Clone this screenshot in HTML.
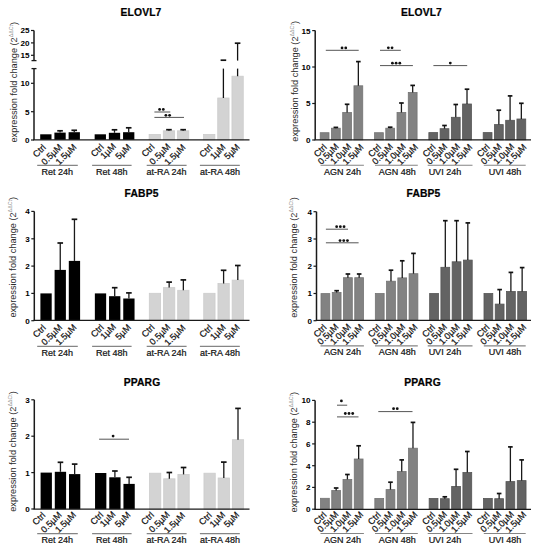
<!DOCTYPE html>
<html><head><meta charset="utf-8"><style>
html,body{margin:0;padding:0;background:#fff;}
svg{display:block;font-family:"Liberation Sans", sans-serif;}
text{stroke:#111;stroke-width:0.22px;paint-order:stroke;}
text.t{stroke:none;}
</style></head><body>
<svg width="541" height="550" viewBox="0 0 541 550">
<rect x="0" y="0" width="541" height="550" fill="#fff"/>
<text x="141.00" y="16.40" font-size="10.3" font-weight="bold" text-anchor="middle" fill="#000" letter-spacing="0.15">ELOVL7</text>
<text x="16.80" y="142.50" class="t" font-size="9.2" fill="#2a2a2a" transform="rotate(-90 16.80 142.50)">expression fold change (2<tspan class="t" font-size="5.3" dy="-4.1" fill="#8a8a8a">ΔΔCt</tspan><tspan dy="4.1">)</tspan></text>
<rect x="40.20" y="134.30" width="11.30" height="5.50" fill="#000000"/>
<rect x="54.40" y="132.60" width="11.30" height="7.20" fill="#000000"/>
<rect x="68.60" y="132.20" width="11.30" height="7.60" fill="#000000"/>
<rect x="94.65" y="134.30" width="11.30" height="5.50" fill="#000000"/>
<rect x="108.85" y="132.80" width="11.30" height="7.00" fill="#000000"/>
<rect x="123.05" y="132.20" width="11.30" height="7.60" fill="#000000"/>
<rect x="149.10" y="134.40" width="11.30" height="5.40" fill="#d3d3d3" stroke="#cccccc" stroke-width="0.8"/>
<rect x="163.30" y="130.80" width="11.30" height="9.00" fill="#d3d3d3" stroke="#cccccc" stroke-width="0.8"/>
<rect x="177.50" y="130.80" width="11.30" height="9.00" fill="#d3d3d3" stroke="#cccccc" stroke-width="0.8"/>
<rect x="203.55" y="134.40" width="11.30" height="5.40" fill="#d3d3d3" stroke="#cccccc" stroke-width="0.8"/>
<rect x="217.75" y="98.00" width="11.30" height="41.80" fill="#d3d3d3" stroke="#cccccc" stroke-width="0.8"/>
<rect x="231.95" y="76.20" width="11.30" height="63.60" fill="#d3d3d3" stroke="#cccccc" stroke-width="0.8"/>
<line x1="60.05" y1="132.60" x2="60.05" y2="130.80" stroke="#1a1a1a" stroke-width="1.3"/>
<line x1="57.25" y1="130.80" x2="62.85" y2="130.80" stroke="#111" stroke-width="1.7"/>
<line x1="74.25" y1="132.20" x2="74.25" y2="130.30" stroke="#1a1a1a" stroke-width="1.3"/>
<line x1="71.45" y1="130.30" x2="77.05" y2="130.30" stroke="#111" stroke-width="1.7"/>
<line x1="114.50" y1="132.80" x2="114.50" y2="129.80" stroke="#1a1a1a" stroke-width="1.3"/>
<line x1="111.70" y1="129.80" x2="117.30" y2="129.80" stroke="#111" stroke-width="1.7"/>
<line x1="128.70" y1="132.20" x2="128.70" y2="127.80" stroke="#1a1a1a" stroke-width="1.3"/>
<line x1="125.90" y1="127.80" x2="131.50" y2="127.80" stroke="#111" stroke-width="1.7"/>
<line x1="168.95" y1="130.80" x2="168.95" y2="129.70" stroke="#1a1a1a" stroke-width="1.3"/>
<line x1="166.15" y1="129.70" x2="171.75" y2="129.70" stroke="#111" stroke-width="1.7"/>
<line x1="183.15" y1="130.80" x2="183.15" y2="129.70" stroke="#1a1a1a" stroke-width="1.3"/>
<line x1="180.35" y1="129.70" x2="185.95" y2="129.70" stroke="#111" stroke-width="1.7"/>
<line x1="223.40" y1="98.00" x2="223.40" y2="68.60" stroke="#111" stroke-width="1.3"/>
<line x1="220.60" y1="60.20" x2="226.20" y2="60.20" stroke="#111" stroke-width="1.7"/>
<line x1="237.60" y1="76.20" x2="237.60" y2="68.60" stroke="#111" stroke-width="1.3"/>
<line x1="237.60" y1="60.60" x2="237.60" y2="43.20" stroke="#111" stroke-width="1.3"/>
<line x1="234.80" y1="43.20" x2="240.40" y2="43.20" stroke="#111" stroke-width="1.7"/>
<line x1="34.00" y1="30.50" x2="34.00" y2="60.60" stroke="#1a1a1a" stroke-width="1.5"/>
<line x1="34.00" y1="68.60" x2="34.00" y2="140.00" stroke="#1a1a1a" stroke-width="1.5"/>
<line x1="31.00" y1="30.50" x2="34.00" y2="30.50" stroke="#1a1a1a" stroke-width="1.2"/>
<text x="29.40" y="33.40" font-size="8.1" font-weight="bold" text-anchor="end" fill="#000" class="t">25</text>
<line x1="31.00" y1="42.90" x2="34.00" y2="42.90" stroke="#1a1a1a" stroke-width="1.2"/>
<text x="29.40" y="45.80" font-size="8.1" font-weight="bold" text-anchor="end" fill="#000" class="t">20</text>
<line x1="31.00" y1="55.30" x2="34.00" y2="55.30" stroke="#1a1a1a" stroke-width="1.2"/>
<text x="29.40" y="58.20" font-size="8.1" font-weight="bold" text-anchor="end" fill="#000" class="t">15</text>
<line x1="31.00" y1="83.30" x2="34.00" y2="83.30" stroke="#1a1a1a" stroke-width="1.2"/>
<text x="29.40" y="86.20" font-size="8.1" font-weight="bold" text-anchor="end" fill="#000" class="t">10</text>
<line x1="31.00" y1="111.70" x2="34.00" y2="111.70" stroke="#1a1a1a" stroke-width="1.2"/>
<text x="29.40" y="114.60" font-size="8.1" font-weight="bold" text-anchor="end" fill="#000" class="t">5</text>
<line x1="31.00" y1="140.00" x2="34.00" y2="140.00" stroke="#1a1a1a" stroke-width="1.2"/>
<text x="29.40" y="142.90" font-size="8.1" font-weight="bold" text-anchor="end" fill="#000" class="t">0</text>
<line x1="31.50" y1="60.60" x2="36.50" y2="60.60" stroke="#1a1a1a" stroke-width="1.3"/>
<line x1="31.50" y1="68.60" x2="36.50" y2="68.60" stroke="#1a1a1a" stroke-width="1.3"/>
<line x1="33.25" y1="139.80" x2="249.50" y2="139.80" stroke="#1a1a1a" stroke-width="1.3"/>
<line x1="154.40" y1="112.00" x2="170.30" y2="112.00" stroke="#555" stroke-width="1.0"/>
<circle cx="159.60" cy="109.40" r="1.4" fill="#111"/>
<circle cx="163.30" cy="109.40" r="1.4" fill="#111"/>
<line x1="154.40" y1="117.40" x2="184.00" y2="117.40" stroke="#555" stroke-width="1.0"/>
<circle cx="165.90" cy="115.30" r="1.4" fill="#111"/>
<circle cx="169.60" cy="115.30" r="1.4" fill="#111"/>
<text x="46.45" y="148.00" font-size="9" font-weight="normal" text-anchor="end" fill="#111" transform="rotate(-45 46.45 148.00)">Ctrl</text>
<text x="62.85" y="147.60" font-size="9" font-weight="normal" text-anchor="end" fill="#111" transform="rotate(-45 62.85 147.60)">0.5µM</text>
<text x="77.05" y="147.60" font-size="9" font-weight="normal" text-anchor="end" fill="#111" transform="rotate(-45 77.05 147.60)">1.5µM</text>
<text x="104.30" y="147.60" font-size="9" font-weight="normal" text-anchor="end" fill="#111" transform="rotate(-45 104.30 147.60)">Ctrl</text>
<text x="116.50" y="147.00" font-size="9" font-weight="normal" text-anchor="end" fill="#111" transform="rotate(-45 116.50 147.00)">1µM</text>
<text x="131.50" y="147.60" font-size="9" font-weight="normal" text-anchor="end" fill="#111" transform="rotate(-45 131.50 147.60)">5µM</text>
<text x="155.15" y="147.60" font-size="9" font-weight="normal" text-anchor="end" fill="#111" transform="rotate(-45 155.15 147.60)">Ctrl</text>
<text x="170.95" y="147.30" font-size="9" font-weight="normal" text-anchor="end" fill="#111" transform="rotate(-45 170.95 147.30)">0.5µM</text>
<text x="185.95" y="148.00" font-size="9" font-weight="normal" text-anchor="end" fill="#111" transform="rotate(-45 185.95 148.00)">1.5µM</text>
<text x="213.00" y="148.00" font-size="9" font-weight="normal" text-anchor="end" fill="#111" transform="rotate(-45 213.00 148.00)">Ctrl</text>
<text x="226.20" y="147.60" font-size="9" font-weight="normal" text-anchor="end" fill="#111" transform="rotate(-45 226.20 147.60)">1µM</text>
<text x="240.40" y="147.60" font-size="9" font-weight="normal" text-anchor="end" fill="#111" transform="rotate(-45 240.40 147.60)">5µM</text>
<line x1="37.20" y1="165.40" x2="77.80" y2="165.40" stroke="#858585" stroke-width="1.1"/>
<text x="57.30" y="174.80" font-size="9" font-weight="normal" text-anchor="middle" fill="#111">Ret 24h</text>
<line x1="92.10" y1="165.40" x2="131.60" y2="165.40" stroke="#858585" stroke-width="1.1"/>
<text x="111.80" y="174.80" font-size="9" font-weight="normal" text-anchor="middle" fill="#111">Ret 48h</text>
<line x1="146.70" y1="165.40" x2="186.60" y2="165.40" stroke="#858585" stroke-width="1.1"/>
<text x="166.60" y="174.80" font-size="9" font-weight="normal" text-anchor="middle" fill="#111">at-RA 24h</text>
<line x1="199.90" y1="165.40" x2="239.80" y2="165.40" stroke="#858585" stroke-width="1.1"/>
<text x="219.90" y="174.80" font-size="9" font-weight="normal" text-anchor="middle" fill="#111">at-RA 48h</text>
<text x="421.50" y="16.40" font-size="10.3" font-weight="bold" text-anchor="middle" fill="#000" letter-spacing="0.15">ELOVL7</text>
<text x="297.70" y="141.70" class="t" font-size="9.2" fill="#2a2a2a" transform="rotate(-90 297.70 141.70)">expression fold change (2<tspan class="t" font-size="5.3" dy="-4.1" fill="#8a8a8a">ΔΔCt</tspan><tspan dy="4.1">)</tspan></text>
<rect x="320.20" y="132.70" width="8.80" height="7.10" fill="#828282" stroke="#747474" stroke-width="0.8"/>
<rect x="331.45" y="128.20" width="8.80" height="11.60" fill="#828282" stroke="#747474" stroke-width="0.8"/>
<rect x="342.70" y="112.50" width="8.80" height="27.30" fill="#828282" stroke="#747474" stroke-width="0.8"/>
<rect x="353.95" y="85.80" width="8.80" height="54.00" fill="#828282" stroke="#747474" stroke-width="0.8"/>
<rect x="374.53" y="132.70" width="8.80" height="7.10" fill="#828282" stroke="#747474" stroke-width="0.8"/>
<rect x="385.78" y="128.20" width="8.80" height="11.60" fill="#828282" stroke="#747474" stroke-width="0.8"/>
<rect x="397.03" y="112.50" width="8.80" height="27.30" fill="#828282" stroke="#747474" stroke-width="0.8"/>
<rect x="408.28" y="92.50" width="8.80" height="47.30" fill="#828282" stroke="#747474" stroke-width="0.8"/>
<rect x="428.86" y="132.60" width="8.80" height="7.20" fill="#636363" stroke="#555555" stroke-width="0.8"/>
<rect x="440.11" y="128.70" width="8.80" height="11.10" fill="#636363" stroke="#555555" stroke-width="0.8"/>
<rect x="451.36" y="117.30" width="8.80" height="22.50" fill="#636363" stroke="#555555" stroke-width="0.8"/>
<rect x="462.61" y="104.00" width="8.80" height="35.80" fill="#636363" stroke="#555555" stroke-width="0.8"/>
<rect x="483.19" y="132.60" width="8.80" height="7.20" fill="#636363" stroke="#555555" stroke-width="0.8"/>
<rect x="494.44" y="124.60" width="8.80" height="15.20" fill="#636363" stroke="#555555" stroke-width="0.8"/>
<rect x="505.69" y="120.30" width="8.80" height="19.50" fill="#636363" stroke="#555555" stroke-width="0.8"/>
<rect x="516.94" y="119.00" width="8.80" height="20.80" fill="#636363" stroke="#555555" stroke-width="0.8"/>
<line x1="335.85" y1="128.20" x2="335.85" y2="127.40" stroke="#1a1a1a" stroke-width="1.3"/>
<line x1="333.55" y1="127.40" x2="338.15" y2="127.40" stroke="#111" stroke-width="1.7"/>
<line x1="347.10" y1="112.50" x2="347.10" y2="104.30" stroke="#1a1a1a" stroke-width="1.3"/>
<line x1="344.80" y1="104.30" x2="349.40" y2="104.30" stroke="#111" stroke-width="1.7"/>
<line x1="358.35" y1="85.80" x2="358.35" y2="61.60" stroke="#1a1a1a" stroke-width="1.3"/>
<line x1="356.05" y1="61.60" x2="360.65" y2="61.60" stroke="#111" stroke-width="1.7"/>
<line x1="390.18" y1="128.20" x2="390.18" y2="127.20" stroke="#1a1a1a" stroke-width="1.3"/>
<line x1="387.88" y1="127.20" x2="392.48" y2="127.20" stroke="#111" stroke-width="1.7"/>
<line x1="401.43" y1="112.50" x2="401.43" y2="103.00" stroke="#1a1a1a" stroke-width="1.3"/>
<line x1="399.13" y1="103.00" x2="403.73" y2="103.00" stroke="#111" stroke-width="1.7"/>
<line x1="412.68" y1="92.50" x2="412.68" y2="85.40" stroke="#1a1a1a" stroke-width="1.3"/>
<line x1="410.38" y1="85.40" x2="414.98" y2="85.40" stroke="#111" stroke-width="1.7"/>
<line x1="444.51" y1="128.70" x2="444.51" y2="125.50" stroke="#1a1a1a" stroke-width="1.3"/>
<line x1="442.21" y1="125.50" x2="446.81" y2="125.50" stroke="#111" stroke-width="1.7"/>
<line x1="455.76" y1="117.30" x2="455.76" y2="104.50" stroke="#1a1a1a" stroke-width="1.3"/>
<line x1="453.46" y1="104.50" x2="458.06" y2="104.50" stroke="#111" stroke-width="1.7"/>
<line x1="467.01" y1="104.00" x2="467.01" y2="89.20" stroke="#1a1a1a" stroke-width="1.3"/>
<line x1="464.71" y1="89.20" x2="469.31" y2="89.20" stroke="#111" stroke-width="1.7"/>
<line x1="498.84" y1="124.60" x2="498.84" y2="110.20" stroke="#1a1a1a" stroke-width="1.3"/>
<line x1="496.54" y1="110.20" x2="501.14" y2="110.20" stroke="#111" stroke-width="1.7"/>
<line x1="510.09" y1="120.30" x2="510.09" y2="95.90" stroke="#1a1a1a" stroke-width="1.3"/>
<line x1="507.79" y1="95.90" x2="512.39" y2="95.90" stroke="#111" stroke-width="1.7"/>
<line x1="521.34" y1="119.00" x2="521.34" y2="103.30" stroke="#1a1a1a" stroke-width="1.3"/>
<line x1="519.04" y1="103.30" x2="523.64" y2="103.30" stroke="#111" stroke-width="1.7"/>
<line x1="315.20" y1="30.60" x2="315.20" y2="139.80" stroke="#1a1a1a" stroke-width="1.5"/>
<line x1="312.20" y1="30.60" x2="315.20" y2="30.60" stroke="#1a1a1a" stroke-width="1.2"/>
<text x="310.60" y="33.50" font-size="8.1" font-weight="bold" text-anchor="end" fill="#000" class="t">15</text>
<line x1="312.20" y1="67.00" x2="315.20" y2="67.00" stroke="#1a1a1a" stroke-width="1.2"/>
<text x="310.60" y="69.90" font-size="8.1" font-weight="bold" text-anchor="end" fill="#000" class="t">10</text>
<line x1="312.20" y1="103.50" x2="315.20" y2="103.50" stroke="#1a1a1a" stroke-width="1.2"/>
<text x="310.60" y="106.40" font-size="8.1" font-weight="bold" text-anchor="end" fill="#000" class="t">5</text>
<line x1="312.20" y1="140.00" x2="315.20" y2="140.00" stroke="#1a1a1a" stroke-width="1.2"/>
<text x="310.60" y="142.90" font-size="8.1" font-weight="bold" text-anchor="end" fill="#000" class="t">0</text>
<line x1="314.45" y1="139.80" x2="531.00" y2="139.80" stroke="#1a1a1a" stroke-width="1.3"/>
<line x1="325.80" y1="50.30" x2="358.70" y2="50.30" stroke="#555" stroke-width="1.0"/>
<circle cx="342.05" cy="47.90" r="1.4" fill="#111"/>
<circle cx="345.75" cy="47.90" r="1.4" fill="#111"/>
<line x1="380.00" y1="50.30" x2="400.80" y2="50.30" stroke="#555" stroke-width="1.0"/>
<circle cx="388.35" cy="47.80" r="1.4" fill="#111"/>
<circle cx="392.05" cy="47.80" r="1.4" fill="#111"/>
<line x1="380.00" y1="65.60" x2="412.90" y2="65.60" stroke="#555" stroke-width="1.0"/>
<circle cx="392.40" cy="63.20" r="1.4" fill="#111"/>
<circle cx="396.10" cy="63.20" r="1.4" fill="#111"/>
<circle cx="399.80" cy="63.20" r="1.4" fill="#111"/>
<line x1="433.40" y1="65.60" x2="467.20" y2="65.60" stroke="#555" stroke-width="1.0"/>
<circle cx="450.30" cy="63.10" r="1.4" fill="#111"/>
<text x="327.40" y="147.80" font-size="9" font-weight="normal" text-anchor="end" fill="#111" transform="rotate(-45 327.40 147.80)">Ctrl</text>
<text x="339.25" y="147.20" font-size="9" font-weight="normal" text-anchor="end" fill="#111" transform="rotate(-45 339.25 147.20)">0.5µM</text>
<text x="351.90" y="147.20" font-size="9" font-weight="normal" text-anchor="end" fill="#111" transform="rotate(-45 351.90 147.20)">1.0µM</text>
<text x="364.15" y="147.60" font-size="9" font-weight="normal" text-anchor="end" fill="#111" transform="rotate(-45 364.15 147.60)">1.5µM</text>
<text x="381.73" y="147.80" font-size="9" font-weight="normal" text-anchor="end" fill="#111" transform="rotate(-45 381.73 147.80)">Ctrl</text>
<text x="393.58" y="147.20" font-size="9" font-weight="normal" text-anchor="end" fill="#111" transform="rotate(-45 393.58 147.20)">0.5µM</text>
<text x="406.23" y="147.20" font-size="9" font-weight="normal" text-anchor="end" fill="#111" transform="rotate(-45 406.23 147.20)">1.0µM</text>
<text x="418.48" y="147.60" font-size="9" font-weight="normal" text-anchor="end" fill="#111" transform="rotate(-45 418.48 147.60)">1.5µM</text>
<text x="436.06" y="147.80" font-size="9" font-weight="normal" text-anchor="end" fill="#111" transform="rotate(-45 436.06 147.80)">Ctrl</text>
<text x="447.91" y="147.20" font-size="9" font-weight="normal" text-anchor="end" fill="#111" transform="rotate(-45 447.91 147.20)">0.5µM</text>
<text x="460.56" y="147.20" font-size="9" font-weight="normal" text-anchor="end" fill="#111" transform="rotate(-45 460.56 147.20)">1.0µM</text>
<text x="472.81" y="147.60" font-size="9" font-weight="normal" text-anchor="end" fill="#111" transform="rotate(-45 472.81 147.60)">1.5µM</text>
<text x="490.39" y="147.80" font-size="9" font-weight="normal" text-anchor="end" fill="#111" transform="rotate(-45 490.39 147.80)">Ctrl</text>
<text x="502.24" y="147.20" font-size="9" font-weight="normal" text-anchor="end" fill="#111" transform="rotate(-45 502.24 147.20)">0.5µM</text>
<text x="514.89" y="147.20" font-size="9" font-weight="normal" text-anchor="end" fill="#111" transform="rotate(-45 514.89 147.20)">1.0µM</text>
<text x="527.14" y="147.60" font-size="9" font-weight="normal" text-anchor="end" fill="#111" transform="rotate(-45 527.14 147.60)">1.5µM</text>
<line x1="320.50" y1="165.20" x2="363.90" y2="165.20" stroke="#858585" stroke-width="1.1"/>
<text x="342.50" y="174.80" font-size="9" font-weight="normal" text-anchor="middle" fill="#111">AGN 24h</text>
<line x1="375.00" y1="165.20" x2="417.80" y2="165.20" stroke="#858585" stroke-width="1.1"/>
<text x="397.20" y="174.80" font-size="9" font-weight="normal" text-anchor="middle" fill="#111">AGN 48h</text>
<line x1="427.70" y1="165.20" x2="472.50" y2="165.20" stroke="#858585" stroke-width="1.1"/>
<text x="444.90" y="174.80" font-size="9" font-weight="normal" text-anchor="middle" fill="#111">UVI 24h</text>
<line x1="483.80" y1="165.20" x2="525.70" y2="165.20" stroke="#858585" stroke-width="1.1"/>
<text x="505.00" y="174.80" font-size="9" font-weight="normal" text-anchor="middle" fill="#111">UVI 48h</text>
<text x="141.60" y="197.20" font-size="10.3" font-weight="bold" text-anchor="middle" fill="#000" letter-spacing="0.15">FABP5</text>
<text x="15.90" y="317.60" class="t" font-size="9.2" fill="#2a2a2a" transform="rotate(-90 15.90 317.60)">expression fold change (2<tspan class="t" font-size="5.3" dy="-4.1" fill="#8a8a8a">ΔΔCt</tspan><tspan dy="4.1">)</tspan></text>
<rect x="40.40" y="293.40" width="11.30" height="27.00" fill="#000000"/>
<rect x="54.60" y="269.90" width="11.30" height="50.50" fill="#000000"/>
<rect x="68.80" y="260.90" width="11.30" height="59.50" fill="#000000"/>
<rect x="94.85" y="293.40" width="11.30" height="27.00" fill="#000000"/>
<rect x="109.05" y="296.20" width="11.30" height="24.20" fill="#000000"/>
<rect x="123.25" y="298.50" width="11.30" height="21.90" fill="#000000"/>
<rect x="149.30" y="293.30" width="11.30" height="27.10" fill="#d3d3d3" stroke="#cccccc" stroke-width="0.8"/>
<rect x="163.50" y="287.60" width="11.30" height="32.80" fill="#d3d3d3" stroke="#cccccc" stroke-width="0.8"/>
<rect x="177.70" y="290.30" width="11.30" height="30.10" fill="#d3d3d3" stroke="#cccccc" stroke-width="0.8"/>
<rect x="203.75" y="293.30" width="11.30" height="27.10" fill="#d3d3d3" stroke="#cccccc" stroke-width="0.8"/>
<rect x="217.95" y="283.50" width="11.30" height="36.90" fill="#d3d3d3" stroke="#cccccc" stroke-width="0.8"/>
<rect x="232.15" y="280.10" width="11.30" height="40.30" fill="#d3d3d3" stroke="#cccccc" stroke-width="0.8"/>
<line x1="60.25" y1="269.90" x2="60.25" y2="243.00" stroke="#1a1a1a" stroke-width="1.3"/>
<line x1="57.45" y1="243.00" x2="63.05" y2="243.00" stroke="#111" stroke-width="1.7"/>
<line x1="74.45" y1="260.90" x2="74.45" y2="219.30" stroke="#1a1a1a" stroke-width="1.3"/>
<line x1="71.65" y1="219.30" x2="77.25" y2="219.30" stroke="#111" stroke-width="1.7"/>
<line x1="114.70" y1="296.20" x2="114.70" y2="287.70" stroke="#1a1a1a" stroke-width="1.3"/>
<line x1="111.90" y1="287.70" x2="117.50" y2="287.70" stroke="#111" stroke-width="1.7"/>
<line x1="128.90" y1="298.50" x2="128.90" y2="292.90" stroke="#1a1a1a" stroke-width="1.3"/>
<line x1="126.10" y1="292.90" x2="131.70" y2="292.90" stroke="#111" stroke-width="1.7"/>
<line x1="169.15" y1="287.60" x2="169.15" y2="282.10" stroke="#1a1a1a" stroke-width="1.3"/>
<line x1="166.35" y1="282.10" x2="171.95" y2="282.10" stroke="#111" stroke-width="1.7"/>
<line x1="183.35" y1="290.30" x2="183.35" y2="279.90" stroke="#1a1a1a" stroke-width="1.3"/>
<line x1="180.55" y1="279.90" x2="186.15" y2="279.90" stroke="#111" stroke-width="1.7"/>
<line x1="223.60" y1="283.50" x2="223.60" y2="270.30" stroke="#1a1a1a" stroke-width="1.3"/>
<line x1="220.80" y1="270.30" x2="226.40" y2="270.30" stroke="#111" stroke-width="1.7"/>
<line x1="237.80" y1="280.10" x2="237.80" y2="265.50" stroke="#1a1a1a" stroke-width="1.3"/>
<line x1="235.00" y1="265.50" x2="240.60" y2="265.50" stroke="#111" stroke-width="1.7"/>
<line x1="34.30" y1="211.40" x2="34.30" y2="320.70" stroke="#1a1a1a" stroke-width="1.5"/>
<line x1="31.30" y1="211.40" x2="34.30" y2="211.40" stroke="#1a1a1a" stroke-width="1.2"/>
<text x="29.70" y="214.30" font-size="8.1" font-weight="bold" text-anchor="end" fill="#000" class="t">4</text>
<line x1="31.30" y1="238.80" x2="34.30" y2="238.80" stroke="#1a1a1a" stroke-width="1.2"/>
<text x="29.70" y="241.70" font-size="8.1" font-weight="bold" text-anchor="end" fill="#000" class="t">3</text>
<line x1="31.30" y1="266.10" x2="34.30" y2="266.10" stroke="#1a1a1a" stroke-width="1.2"/>
<text x="29.70" y="269.00" font-size="8.1" font-weight="bold" text-anchor="end" fill="#000" class="t">2</text>
<line x1="31.30" y1="293.40" x2="34.30" y2="293.40" stroke="#1a1a1a" stroke-width="1.2"/>
<text x="29.70" y="296.30" font-size="8.1" font-weight="bold" text-anchor="end" fill="#000" class="t">1</text>
<line x1="31.30" y1="320.70" x2="34.30" y2="320.70" stroke="#1a1a1a" stroke-width="1.2"/>
<text x="29.70" y="323.60" font-size="8.1" font-weight="bold" text-anchor="end" fill="#000" class="t">0</text>
<line x1="33.55" y1="320.40" x2="249.50" y2="320.40" stroke="#1a1a1a" stroke-width="1.3"/>
<text x="46.45" y="328.40" font-size="9" font-weight="normal" text-anchor="end" fill="#111" transform="rotate(-45 46.45 328.40)">Ctrl</text>
<text x="62.85" y="328.00" font-size="9" font-weight="normal" text-anchor="end" fill="#111" transform="rotate(-45 62.85 328.00)">0.5µM</text>
<text x="77.05" y="328.00" font-size="9" font-weight="normal" text-anchor="end" fill="#111" transform="rotate(-45 77.05 328.00)">1.5µM</text>
<text x="104.30" y="328.00" font-size="9" font-weight="normal" text-anchor="end" fill="#111" transform="rotate(-45 104.30 328.00)">Ctrl</text>
<text x="116.50" y="327.40" font-size="9" font-weight="normal" text-anchor="end" fill="#111" transform="rotate(-45 116.50 327.40)">1µM</text>
<text x="131.50" y="328.00" font-size="9" font-weight="normal" text-anchor="end" fill="#111" transform="rotate(-45 131.50 328.00)">5µM</text>
<text x="155.15" y="328.00" font-size="9" font-weight="normal" text-anchor="end" fill="#111" transform="rotate(-45 155.15 328.00)">Ctrl</text>
<text x="170.95" y="327.70" font-size="9" font-weight="normal" text-anchor="end" fill="#111" transform="rotate(-45 170.95 327.70)">0.5µM</text>
<text x="185.95" y="328.40" font-size="9" font-weight="normal" text-anchor="end" fill="#111" transform="rotate(-45 185.95 328.40)">1.5µM</text>
<text x="213.00" y="328.40" font-size="9" font-weight="normal" text-anchor="end" fill="#111" transform="rotate(-45 213.00 328.40)">Ctrl</text>
<text x="226.20" y="328.00" font-size="9" font-weight="normal" text-anchor="end" fill="#111" transform="rotate(-45 226.20 328.00)">1µM</text>
<text x="240.40" y="328.00" font-size="9" font-weight="normal" text-anchor="end" fill="#111" transform="rotate(-45 240.40 328.00)">5µM</text>
<line x1="37.20" y1="346.40" x2="77.80" y2="346.40" stroke="#858585" stroke-width="1.1"/>
<text x="57.30" y="355.70" font-size="9" font-weight="normal" text-anchor="middle" fill="#111">Ret 24h</text>
<line x1="92.10" y1="346.40" x2="131.60" y2="346.40" stroke="#858585" stroke-width="1.1"/>
<text x="111.80" y="355.70" font-size="9" font-weight="normal" text-anchor="middle" fill="#111">Ret 48h</text>
<line x1="146.70" y1="346.40" x2="186.60" y2="346.40" stroke="#858585" stroke-width="1.1"/>
<text x="166.60" y="355.70" font-size="9" font-weight="normal" text-anchor="middle" fill="#111">at-RA 24h</text>
<line x1="199.90" y1="346.40" x2="239.80" y2="346.40" stroke="#858585" stroke-width="1.1"/>
<text x="219.90" y="355.70" font-size="9" font-weight="normal" text-anchor="middle" fill="#111">at-RA 48h</text>
<text x="423.50" y="197.00" font-size="10.3" font-weight="bold" text-anchor="middle" fill="#000" letter-spacing="0.15">FABP5</text>
<text x="297.20" y="317.80" class="t" font-size="9.2" fill="#2a2a2a" transform="rotate(-90 297.20 317.80)">expression fold change (2<tspan class="t" font-size="5.3" dy="-4.1" fill="#8a8a8a">ΔΔCt</tspan><tspan dy="4.1">)</tspan></text>
<rect x="321.00" y="293.60" width="8.80" height="26.80" fill="#828282" stroke="#747474" stroke-width="0.8"/>
<rect x="332.25" y="292.40" width="8.80" height="28.00" fill="#828282" stroke="#747474" stroke-width="0.8"/>
<rect x="343.50" y="277.70" width="8.80" height="42.70" fill="#828282" stroke="#747474" stroke-width="0.8"/>
<rect x="354.75" y="277.70" width="8.80" height="42.70" fill="#828282" stroke="#747474" stroke-width="0.8"/>
<rect x="375.33" y="293.50" width="8.80" height="26.90" fill="#828282" stroke="#747474" stroke-width="0.8"/>
<rect x="386.58" y="281.20" width="8.80" height="39.20" fill="#828282" stroke="#747474" stroke-width="0.8"/>
<rect x="397.83" y="277.90" width="8.80" height="42.50" fill="#828282" stroke="#747474" stroke-width="0.8"/>
<rect x="409.08" y="273.70" width="8.80" height="46.70" fill="#828282" stroke="#747474" stroke-width="0.8"/>
<rect x="429.66" y="293.50" width="8.80" height="26.90" fill="#636363" stroke="#555555" stroke-width="0.8"/>
<rect x="440.91" y="267.30" width="8.80" height="53.10" fill="#636363" stroke="#555555" stroke-width="0.8"/>
<rect x="452.16" y="261.80" width="8.80" height="58.60" fill="#636363" stroke="#555555" stroke-width="0.8"/>
<rect x="463.41" y="260.10" width="8.80" height="60.30" fill="#636363" stroke="#555555" stroke-width="0.8"/>
<rect x="483.99" y="293.50" width="8.80" height="26.90" fill="#636363" stroke="#555555" stroke-width="0.8"/>
<rect x="495.24" y="304.10" width="8.80" height="16.30" fill="#636363" stroke="#555555" stroke-width="0.8"/>
<rect x="506.49" y="291.50" width="8.80" height="28.90" fill="#636363" stroke="#555555" stroke-width="0.8"/>
<rect x="517.74" y="291.50" width="8.80" height="28.90" fill="#636363" stroke="#555555" stroke-width="0.8"/>
<line x1="336.65" y1="292.40" x2="336.65" y2="290.70" stroke="#1a1a1a" stroke-width="1.3"/>
<line x1="334.35" y1="290.70" x2="338.95" y2="290.70" stroke="#111" stroke-width="1.7"/>
<line x1="347.90" y1="277.70" x2="347.90" y2="274.00" stroke="#1a1a1a" stroke-width="1.3"/>
<line x1="345.60" y1="274.00" x2="350.20" y2="274.00" stroke="#111" stroke-width="1.7"/>
<line x1="359.15" y1="277.70" x2="359.15" y2="274.00" stroke="#1a1a1a" stroke-width="1.3"/>
<line x1="356.85" y1="274.00" x2="361.45" y2="274.00" stroke="#111" stroke-width="1.7"/>
<line x1="390.98" y1="281.20" x2="390.98" y2="270.20" stroke="#1a1a1a" stroke-width="1.3"/>
<line x1="388.68" y1="270.20" x2="393.28" y2="270.20" stroke="#111" stroke-width="1.7"/>
<line x1="402.23" y1="277.90" x2="402.23" y2="260.80" stroke="#1a1a1a" stroke-width="1.3"/>
<line x1="399.93" y1="260.80" x2="404.53" y2="260.80" stroke="#111" stroke-width="1.7"/>
<line x1="413.48" y1="273.70" x2="413.48" y2="253.40" stroke="#1a1a1a" stroke-width="1.3"/>
<line x1="411.18" y1="253.40" x2="415.78" y2="253.40" stroke="#111" stroke-width="1.7"/>
<line x1="445.31" y1="267.30" x2="445.31" y2="220.70" stroke="#1a1a1a" stroke-width="1.3"/>
<line x1="443.01" y1="220.70" x2="447.61" y2="220.70" stroke="#111" stroke-width="1.7"/>
<line x1="456.56" y1="261.80" x2="456.56" y2="220.70" stroke="#1a1a1a" stroke-width="1.3"/>
<line x1="454.26" y1="220.70" x2="458.86" y2="220.70" stroke="#111" stroke-width="1.7"/>
<line x1="467.81" y1="260.10" x2="467.81" y2="222.90" stroke="#1a1a1a" stroke-width="1.3"/>
<line x1="465.51" y1="222.90" x2="470.11" y2="222.90" stroke="#111" stroke-width="1.7"/>
<line x1="499.64" y1="304.10" x2="499.64" y2="289.60" stroke="#1a1a1a" stroke-width="1.3"/>
<line x1="497.34" y1="289.60" x2="501.94" y2="289.60" stroke="#111" stroke-width="1.7"/>
<line x1="510.89" y1="291.50" x2="510.89" y2="272.40" stroke="#1a1a1a" stroke-width="1.3"/>
<line x1="508.59" y1="272.40" x2="513.19" y2="272.40" stroke="#111" stroke-width="1.7"/>
<line x1="522.14" y1="291.50" x2="522.14" y2="267.60" stroke="#1a1a1a" stroke-width="1.3"/>
<line x1="519.84" y1="267.60" x2="524.44" y2="267.60" stroke="#111" stroke-width="1.7"/>
<line x1="316.50" y1="211.70" x2="316.50" y2="320.40" stroke="#1a1a1a" stroke-width="1.5"/>
<line x1="313.50" y1="211.70" x2="316.50" y2="211.70" stroke="#1a1a1a" stroke-width="1.2"/>
<text x="311.90" y="214.60" font-size="8.1" font-weight="bold" text-anchor="end" fill="#000" class="t">4</text>
<line x1="313.50" y1="239.00" x2="316.50" y2="239.00" stroke="#1a1a1a" stroke-width="1.2"/>
<text x="311.90" y="241.90" font-size="8.1" font-weight="bold" text-anchor="end" fill="#000" class="t">3</text>
<line x1="313.50" y1="266.20" x2="316.50" y2="266.20" stroke="#1a1a1a" stroke-width="1.2"/>
<text x="311.90" y="269.10" font-size="8.1" font-weight="bold" text-anchor="end" fill="#000" class="t">2</text>
<line x1="313.50" y1="293.50" x2="316.50" y2="293.50" stroke="#1a1a1a" stroke-width="1.2"/>
<text x="311.90" y="296.40" font-size="8.1" font-weight="bold" text-anchor="end" fill="#000" class="t">1</text>
<line x1="313.50" y1="320.70" x2="316.50" y2="320.70" stroke="#1a1a1a" stroke-width="1.2"/>
<text x="311.90" y="323.60" font-size="8.1" font-weight="bold" text-anchor="end" fill="#000" class="t">0</text>
<line x1="315.75" y1="320.40" x2="531.00" y2="320.40" stroke="#1a1a1a" stroke-width="1.3"/>
<line x1="325.90" y1="229.20" x2="348.00" y2="229.20" stroke="#555" stroke-width="1.0"/>
<circle cx="336.65" cy="226.70" r="1.4" fill="#111"/>
<circle cx="340.35" cy="226.70" r="1.4" fill="#111"/>
<circle cx="344.05" cy="226.70" r="1.4" fill="#111"/>
<line x1="325.90" y1="242.80" x2="358.60" y2="242.80" stroke="#555" stroke-width="1.0"/>
<circle cx="340.05" cy="240.60" r="1.4" fill="#111"/>
<circle cx="343.75" cy="240.60" r="1.4" fill="#111"/>
<circle cx="347.45" cy="240.60" r="1.4" fill="#111"/>
<text x="327.10" y="328.00" font-size="9" font-weight="normal" text-anchor="end" fill="#111" transform="rotate(-45 327.10 328.00)">Ctrl</text>
<text x="338.95" y="327.40" font-size="9" font-weight="normal" text-anchor="end" fill="#111" transform="rotate(-45 338.95 327.40)">0.5µM</text>
<text x="351.60" y="327.40" font-size="9" font-weight="normal" text-anchor="end" fill="#111" transform="rotate(-45 351.60 327.40)">1.0µM</text>
<text x="363.85" y="327.80" font-size="9" font-weight="normal" text-anchor="end" fill="#111" transform="rotate(-45 363.85 327.80)">1.5µM</text>
<text x="381.43" y="328.00" font-size="9" font-weight="normal" text-anchor="end" fill="#111" transform="rotate(-45 381.43 328.00)">Ctrl</text>
<text x="393.28" y="327.40" font-size="9" font-weight="normal" text-anchor="end" fill="#111" transform="rotate(-45 393.28 327.40)">0.5µM</text>
<text x="405.93" y="327.40" font-size="9" font-weight="normal" text-anchor="end" fill="#111" transform="rotate(-45 405.93 327.40)">1.0µM</text>
<text x="418.18" y="327.80" font-size="9" font-weight="normal" text-anchor="end" fill="#111" transform="rotate(-45 418.18 327.80)">1.5µM</text>
<text x="435.76" y="328.00" font-size="9" font-weight="normal" text-anchor="end" fill="#111" transform="rotate(-45 435.76 328.00)">Ctrl</text>
<text x="447.61" y="327.40" font-size="9" font-weight="normal" text-anchor="end" fill="#111" transform="rotate(-45 447.61 327.40)">0.5µM</text>
<text x="460.26" y="327.40" font-size="9" font-weight="normal" text-anchor="end" fill="#111" transform="rotate(-45 460.26 327.40)">1.0µM</text>
<text x="472.51" y="327.80" font-size="9" font-weight="normal" text-anchor="end" fill="#111" transform="rotate(-45 472.51 327.80)">1.5µM</text>
<text x="490.09" y="328.00" font-size="9" font-weight="normal" text-anchor="end" fill="#111" transform="rotate(-45 490.09 328.00)">Ctrl</text>
<text x="501.94" y="327.40" font-size="9" font-weight="normal" text-anchor="end" fill="#111" transform="rotate(-45 501.94 327.40)">0.5µM</text>
<text x="514.59" y="327.40" font-size="9" font-weight="normal" text-anchor="end" fill="#111" transform="rotate(-45 514.59 327.40)">1.0µM</text>
<text x="526.84" y="327.80" font-size="9" font-weight="normal" text-anchor="end" fill="#111" transform="rotate(-45 526.84 327.80)">1.5µM</text>
<line x1="320.50" y1="345.90" x2="363.90" y2="345.90" stroke="#858585" stroke-width="1.1"/>
<text x="342.50" y="355.40" font-size="9" font-weight="normal" text-anchor="middle" fill="#111">AGN 24h</text>
<line x1="375.00" y1="345.90" x2="417.80" y2="345.90" stroke="#858585" stroke-width="1.1"/>
<text x="397.20" y="355.40" font-size="9" font-weight="normal" text-anchor="middle" fill="#111">AGN 48h</text>
<line x1="427.70" y1="345.90" x2="472.50" y2="345.90" stroke="#858585" stroke-width="1.1"/>
<text x="444.90" y="355.40" font-size="9" font-weight="normal" text-anchor="middle" fill="#111">UVI 24h</text>
<line x1="483.80" y1="345.90" x2="525.70" y2="345.90" stroke="#858585" stroke-width="1.1"/>
<text x="505.00" y="355.40" font-size="9" font-weight="normal" text-anchor="middle" fill="#111">UVI 48h</text>
<text x="142.00" y="385.80" font-size="10.3" font-weight="bold" text-anchor="middle" fill="#000" letter-spacing="0.15">PPARG</text>
<text x="15.90" y="511.80" class="t" font-size="9.2" fill="#2a2a2a" transform="rotate(-90 15.90 511.80)">expression fold change (2<tspan class="t" font-size="5.3" dy="-4.1" fill="#8a8a8a">ΔΔCt</tspan><tspan dy="4.1">)</tspan></text>
<rect x="40.60" y="472.60" width="11.30" height="36.60" fill="#000000"/>
<rect x="54.80" y="471.80" width="11.30" height="37.40" fill="#000000"/>
<rect x="69.00" y="474.10" width="11.30" height="35.10" fill="#000000"/>
<rect x="95.05" y="473.00" width="11.30" height="36.20" fill="#000000"/>
<rect x="109.25" y="477.30" width="11.30" height="31.90" fill="#000000"/>
<rect x="123.45" y="483.90" width="11.30" height="25.30" fill="#000000"/>
<rect x="149.50" y="473.20" width="11.30" height="36.00" fill="#d3d3d3" stroke="#cccccc" stroke-width="0.8"/>
<rect x="163.70" y="478.80" width="11.30" height="30.40" fill="#d3d3d3" stroke="#cccccc" stroke-width="0.8"/>
<rect x="177.90" y="474.40" width="11.30" height="34.80" fill="#d3d3d3" stroke="#cccccc" stroke-width="0.8"/>
<rect x="203.95" y="473.20" width="11.30" height="36.00" fill="#d3d3d3" stroke="#cccccc" stroke-width="0.8"/>
<rect x="218.15" y="478.00" width="11.30" height="31.20" fill="#d3d3d3" stroke="#cccccc" stroke-width="0.8"/>
<rect x="232.35" y="439.70" width="11.30" height="69.50" fill="#d3d3d3" stroke="#cccccc" stroke-width="0.8"/>
<line x1="60.45" y1="471.80" x2="60.45" y2="462.30" stroke="#1a1a1a" stroke-width="1.3"/>
<line x1="57.65" y1="462.30" x2="63.25" y2="462.30" stroke="#111" stroke-width="1.7"/>
<line x1="74.65" y1="474.10" x2="74.65" y2="464.10" stroke="#1a1a1a" stroke-width="1.3"/>
<line x1="71.85" y1="464.10" x2="77.45" y2="464.10" stroke="#111" stroke-width="1.7"/>
<line x1="114.90" y1="477.30" x2="114.90" y2="471.00" stroke="#1a1a1a" stroke-width="1.3"/>
<line x1="112.10" y1="471.00" x2="117.70" y2="471.00" stroke="#111" stroke-width="1.7"/>
<line x1="129.10" y1="483.90" x2="129.10" y2="477.30" stroke="#1a1a1a" stroke-width="1.3"/>
<line x1="126.30" y1="477.30" x2="131.90" y2="477.30" stroke="#111" stroke-width="1.7"/>
<line x1="169.35" y1="478.80" x2="169.35" y2="472.50" stroke="#1a1a1a" stroke-width="1.3"/>
<line x1="166.55" y1="472.50" x2="172.15" y2="472.50" stroke="#111" stroke-width="1.7"/>
<line x1="183.55" y1="474.40" x2="183.55" y2="467.50" stroke="#1a1a1a" stroke-width="1.3"/>
<line x1="180.75" y1="467.50" x2="186.35" y2="467.50" stroke="#111" stroke-width="1.7"/>
<line x1="223.80" y1="478.00" x2="223.80" y2="462.10" stroke="#1a1a1a" stroke-width="1.3"/>
<line x1="221.00" y1="462.10" x2="226.60" y2="462.10" stroke="#111" stroke-width="1.7"/>
<line x1="238.00" y1="439.70" x2="238.00" y2="408.40" stroke="#1a1a1a" stroke-width="1.3"/>
<line x1="235.20" y1="408.40" x2="240.80" y2="408.40" stroke="#111" stroke-width="1.7"/>
<line x1="34.30" y1="399.80" x2="34.30" y2="509.00" stroke="#1a1a1a" stroke-width="1.5"/>
<line x1="31.30" y1="399.80" x2="34.30" y2="399.80" stroke="#1a1a1a" stroke-width="1.2"/>
<text x="29.70" y="402.70" font-size="8.1" font-weight="bold" text-anchor="end" fill="#000" class="t">3</text>
<line x1="31.30" y1="436.20" x2="34.30" y2="436.20" stroke="#1a1a1a" stroke-width="1.2"/>
<text x="29.70" y="439.10" font-size="8.1" font-weight="bold" text-anchor="end" fill="#000" class="t">2</text>
<line x1="31.30" y1="472.60" x2="34.30" y2="472.60" stroke="#1a1a1a" stroke-width="1.2"/>
<text x="29.70" y="475.50" font-size="8.1" font-weight="bold" text-anchor="end" fill="#000" class="t">1</text>
<line x1="31.30" y1="509.00" x2="34.30" y2="509.00" stroke="#1a1a1a" stroke-width="1.2"/>
<text x="29.70" y="511.90" font-size="8.1" font-weight="bold" text-anchor="end" fill="#000" class="t">0</text>
<line x1="33.55" y1="509.20" x2="249.50" y2="509.20" stroke="#1a1a1a" stroke-width="1.3"/>
<line x1="99.10" y1="439.20" x2="129.00" y2="439.20" stroke="#555" stroke-width="1.0"/>
<circle cx="113.10" cy="436.10" r="1.4" fill="#111"/>
<text x="45.95" y="515.90" font-size="9" font-weight="normal" text-anchor="end" fill="#111" transform="rotate(-45 45.95 515.90)">Ctrl</text>
<text x="62.35" y="515.50" font-size="9" font-weight="normal" text-anchor="end" fill="#111" transform="rotate(-45 62.35 515.50)">0.5µM</text>
<text x="76.55" y="515.50" font-size="9" font-weight="normal" text-anchor="end" fill="#111" transform="rotate(-45 76.55 515.50)">1.5µM</text>
<text x="103.80" y="515.50" font-size="9" font-weight="normal" text-anchor="end" fill="#111" transform="rotate(-45 103.80 515.50)">Ctrl</text>
<text x="116.00" y="514.90" font-size="9" font-weight="normal" text-anchor="end" fill="#111" transform="rotate(-45 116.00 514.90)">1µM</text>
<text x="131.00" y="515.50" font-size="9" font-weight="normal" text-anchor="end" fill="#111" transform="rotate(-45 131.00 515.50)">5µM</text>
<text x="154.65" y="515.50" font-size="9" font-weight="normal" text-anchor="end" fill="#111" transform="rotate(-45 154.65 515.50)">Ctrl</text>
<text x="170.45" y="515.20" font-size="9" font-weight="normal" text-anchor="end" fill="#111" transform="rotate(-45 170.45 515.20)">0.5µM</text>
<text x="185.45" y="515.90" font-size="9" font-weight="normal" text-anchor="end" fill="#111" transform="rotate(-45 185.45 515.90)">1.5µM</text>
<text x="212.50" y="515.90" font-size="9" font-weight="normal" text-anchor="end" fill="#111" transform="rotate(-45 212.50 515.90)">Ctrl</text>
<text x="225.70" y="515.50" font-size="9" font-weight="normal" text-anchor="end" fill="#111" transform="rotate(-45 225.70 515.50)">1µM</text>
<text x="239.90" y="515.50" font-size="9" font-weight="normal" text-anchor="end" fill="#111" transform="rotate(-45 239.90 515.50)">5µM</text>
<line x1="37.20" y1="533.60" x2="77.80" y2="533.60" stroke="#858585" stroke-width="1.1"/>
<text x="57.30" y="543.20" font-size="9" font-weight="normal" text-anchor="middle" fill="#111">Ret 24h</text>
<line x1="92.10" y1="533.60" x2="131.60" y2="533.60" stroke="#858585" stroke-width="1.1"/>
<text x="111.80" y="543.20" font-size="9" font-weight="normal" text-anchor="middle" fill="#111">Ret 48h</text>
<line x1="146.70" y1="533.60" x2="186.60" y2="533.60" stroke="#858585" stroke-width="1.1"/>
<text x="166.60" y="543.20" font-size="9" font-weight="normal" text-anchor="middle" fill="#111">at-RA 24h</text>
<line x1="199.90" y1="533.60" x2="239.80" y2="533.60" stroke="#858585" stroke-width="1.1"/>
<text x="219.90" y="543.20" font-size="9" font-weight="normal" text-anchor="middle" fill="#111">at-RA 48h</text>
<text x="422.50" y="385.80" font-size="10.3" font-weight="bold" text-anchor="middle" fill="#000" letter-spacing="0.15">PPARG</text>
<text x="296.90" y="512.60" class="t" font-size="9.2" fill="#2a2a2a" transform="rotate(-90 296.90 512.60)">expression fold change (2<tspan class="t" font-size="5.3" dy="-4.1" fill="#8a8a8a">ΔΔCt</tspan><tspan dy="4.1">)</tspan></text>
<rect x="320.50" y="498.30" width="8.80" height="11.00" fill="#828282" stroke="#747474" stroke-width="0.8"/>
<rect x="331.75" y="490.50" width="8.80" height="18.80" fill="#828282" stroke="#747474" stroke-width="0.8"/>
<rect x="343.00" y="479.40" width="8.80" height="29.90" fill="#828282" stroke="#747474" stroke-width="0.8"/>
<rect x="354.25" y="459.00" width="8.80" height="50.30" fill="#828282" stroke="#747474" stroke-width="0.8"/>
<rect x="374.83" y="498.40" width="8.80" height="10.90" fill="#828282" stroke="#747474" stroke-width="0.8"/>
<rect x="386.08" y="489.60" width="8.80" height="19.70" fill="#828282" stroke="#747474" stroke-width="0.8"/>
<rect x="397.33" y="471.50" width="8.80" height="37.80" fill="#828282" stroke="#747474" stroke-width="0.8"/>
<rect x="408.58" y="448.20" width="8.80" height="61.10" fill="#828282" stroke="#747474" stroke-width="0.8"/>
<rect x="429.16" y="498.40" width="8.80" height="10.90" fill="#636363" stroke="#555555" stroke-width="0.8"/>
<rect x="440.41" y="498.70" width="8.80" height="10.60" fill="#636363" stroke="#555555" stroke-width="0.8"/>
<rect x="451.66" y="486.40" width="8.80" height="22.90" fill="#636363" stroke="#555555" stroke-width="0.8"/>
<rect x="462.91" y="472.50" width="8.80" height="36.80" fill="#636363" stroke="#555555" stroke-width="0.8"/>
<rect x="483.49" y="498.40" width="8.80" height="10.90" fill="#636363" stroke="#555555" stroke-width="0.8"/>
<rect x="494.74" y="498.70" width="8.80" height="10.60" fill="#636363" stroke="#555555" stroke-width="0.8"/>
<rect x="505.99" y="481.60" width="8.80" height="27.70" fill="#636363" stroke="#555555" stroke-width="0.8"/>
<rect x="517.24" y="480.60" width="8.80" height="28.70" fill="#636363" stroke="#555555" stroke-width="0.8"/>
<line x1="336.15" y1="490.50" x2="336.15" y2="488.00" stroke="#1a1a1a" stroke-width="1.3"/>
<line x1="333.85" y1="488.00" x2="338.45" y2="488.00" stroke="#111" stroke-width="1.7"/>
<line x1="347.40" y1="479.40" x2="347.40" y2="474.50" stroke="#1a1a1a" stroke-width="1.3"/>
<line x1="345.10" y1="474.50" x2="349.70" y2="474.50" stroke="#111" stroke-width="1.7"/>
<line x1="358.65" y1="459.00" x2="358.65" y2="445.80" stroke="#1a1a1a" stroke-width="1.3"/>
<line x1="356.35" y1="445.80" x2="360.95" y2="445.80" stroke="#111" stroke-width="1.7"/>
<line x1="390.48" y1="489.60" x2="390.48" y2="482.20" stroke="#1a1a1a" stroke-width="1.3"/>
<line x1="388.18" y1="482.20" x2="392.78" y2="482.20" stroke="#111" stroke-width="1.7"/>
<line x1="401.73" y1="471.50" x2="401.73" y2="459.90" stroke="#1a1a1a" stroke-width="1.3"/>
<line x1="399.43" y1="459.90" x2="404.03" y2="459.90" stroke="#111" stroke-width="1.7"/>
<line x1="412.98" y1="448.20" x2="412.98" y2="422.40" stroke="#1a1a1a" stroke-width="1.3"/>
<line x1="410.68" y1="422.40" x2="415.28" y2="422.40" stroke="#111" stroke-width="1.7"/>
<line x1="444.81" y1="498.70" x2="444.81" y2="496.80" stroke="#1a1a1a" stroke-width="1.3"/>
<line x1="442.51" y1="496.80" x2="447.11" y2="496.80" stroke="#111" stroke-width="1.7"/>
<line x1="456.06" y1="486.40" x2="456.06" y2="469.30" stroke="#1a1a1a" stroke-width="1.3"/>
<line x1="453.76" y1="469.30" x2="458.36" y2="469.30" stroke="#111" stroke-width="1.7"/>
<line x1="467.31" y1="472.50" x2="467.31" y2="451.50" stroke="#1a1a1a" stroke-width="1.3"/>
<line x1="465.01" y1="451.50" x2="469.61" y2="451.50" stroke="#111" stroke-width="1.7"/>
<line x1="499.14" y1="498.70" x2="499.14" y2="493.50" stroke="#1a1a1a" stroke-width="1.3"/>
<line x1="496.84" y1="493.50" x2="501.44" y2="493.50" stroke="#111" stroke-width="1.7"/>
<line x1="510.39" y1="481.60" x2="510.39" y2="446.90" stroke="#1a1a1a" stroke-width="1.3"/>
<line x1="508.09" y1="446.90" x2="512.69" y2="446.90" stroke="#111" stroke-width="1.7"/>
<line x1="521.64" y1="480.60" x2="521.64" y2="459.90" stroke="#1a1a1a" stroke-width="1.3"/>
<line x1="519.34" y1="459.90" x2="523.94" y2="459.90" stroke="#111" stroke-width="1.7"/>
<line x1="315.10" y1="400.40" x2="315.10" y2="509.30" stroke="#1a1a1a" stroke-width="1.5"/>
<line x1="312.10" y1="400.40" x2="315.10" y2="400.40" stroke="#1a1a1a" stroke-width="1.2"/>
<text x="310.50" y="403.30" font-size="8.1" font-weight="bold" text-anchor="end" fill="#000" class="t">10</text>
<line x1="312.10" y1="422.20" x2="315.10" y2="422.20" stroke="#1a1a1a" stroke-width="1.2"/>
<text x="310.50" y="425.10" font-size="8.1" font-weight="bold" text-anchor="end" fill="#000" class="t">8</text>
<line x1="312.10" y1="443.90" x2="315.10" y2="443.90" stroke="#1a1a1a" stroke-width="1.2"/>
<text x="310.50" y="446.80" font-size="8.1" font-weight="bold" text-anchor="end" fill="#000" class="t">6</text>
<line x1="312.10" y1="465.70" x2="315.10" y2="465.70" stroke="#1a1a1a" stroke-width="1.2"/>
<text x="310.50" y="468.60" font-size="8.1" font-weight="bold" text-anchor="end" fill="#000" class="t">4</text>
<line x1="312.10" y1="487.40" x2="315.10" y2="487.40" stroke="#1a1a1a" stroke-width="1.2"/>
<text x="310.50" y="490.30" font-size="8.1" font-weight="bold" text-anchor="end" fill="#000" class="t">2</text>
<line x1="312.10" y1="509.20" x2="315.10" y2="509.20" stroke="#1a1a1a" stroke-width="1.2"/>
<text x="310.50" y="512.10" font-size="8.1" font-weight="bold" text-anchor="end" fill="#000" class="t">0</text>
<line x1="314.35" y1="509.30" x2="531.00" y2="509.30" stroke="#1a1a1a" stroke-width="1.3"/>
<line x1="337.00" y1="405.20" x2="347.20" y2="405.20" stroke="#555" stroke-width="1.0"/>
<circle cx="341.40" cy="400.90" r="1.4" fill="#111"/>
<line x1="337.00" y1="416.90" x2="358.50" y2="416.90" stroke="#555" stroke-width="1.0"/>
<circle cx="345.30" cy="413.50" r="1.4" fill="#111"/>
<circle cx="349.00" cy="413.50" r="1.4" fill="#111"/>
<circle cx="352.70" cy="413.50" r="1.4" fill="#111"/>
<line x1="378.30" y1="411.60" x2="412.50" y2="411.60" stroke="#555" stroke-width="1.0"/>
<circle cx="393.55" cy="408.70" r="1.4" fill="#111"/>
<circle cx="397.25" cy="408.70" r="1.4" fill="#111"/>
<text x="327.10" y="515.50" font-size="9" font-weight="normal" text-anchor="end" fill="#111" transform="rotate(-45 327.10 515.50)">Ctrl</text>
<text x="338.95" y="514.90" font-size="9" font-weight="normal" text-anchor="end" fill="#111" transform="rotate(-45 338.95 514.90)">0.5µM</text>
<text x="351.60" y="514.90" font-size="9" font-weight="normal" text-anchor="end" fill="#111" transform="rotate(-45 351.60 514.90)">1.0µM</text>
<text x="363.85" y="515.30" font-size="9" font-weight="normal" text-anchor="end" fill="#111" transform="rotate(-45 363.85 515.30)">1.5µM</text>
<text x="381.43" y="515.50" font-size="9" font-weight="normal" text-anchor="end" fill="#111" transform="rotate(-45 381.43 515.50)">Ctrl</text>
<text x="393.28" y="514.90" font-size="9" font-weight="normal" text-anchor="end" fill="#111" transform="rotate(-45 393.28 514.90)">0.5µM</text>
<text x="405.93" y="514.90" font-size="9" font-weight="normal" text-anchor="end" fill="#111" transform="rotate(-45 405.93 514.90)">1.0µM</text>
<text x="418.18" y="515.30" font-size="9" font-weight="normal" text-anchor="end" fill="#111" transform="rotate(-45 418.18 515.30)">1.5µM</text>
<text x="435.76" y="515.50" font-size="9" font-weight="normal" text-anchor="end" fill="#111" transform="rotate(-45 435.76 515.50)">Ctrl</text>
<text x="447.61" y="514.90" font-size="9" font-weight="normal" text-anchor="end" fill="#111" transform="rotate(-45 447.61 514.90)">0.5µM</text>
<text x="460.26" y="514.90" font-size="9" font-weight="normal" text-anchor="end" fill="#111" transform="rotate(-45 460.26 514.90)">1.0µM</text>
<text x="472.51" y="515.30" font-size="9" font-weight="normal" text-anchor="end" fill="#111" transform="rotate(-45 472.51 515.30)">1.5µM</text>
<text x="490.09" y="515.50" font-size="9" font-weight="normal" text-anchor="end" fill="#111" transform="rotate(-45 490.09 515.50)">Ctrl</text>
<text x="501.94" y="514.90" font-size="9" font-weight="normal" text-anchor="end" fill="#111" transform="rotate(-45 501.94 514.90)">0.5µM</text>
<text x="514.59" y="514.90" font-size="9" font-weight="normal" text-anchor="end" fill="#111" transform="rotate(-45 514.59 514.90)">1.0µM</text>
<text x="526.84" y="515.30" font-size="9" font-weight="normal" text-anchor="end" fill="#111" transform="rotate(-45 526.84 515.30)">1.5µM</text>
<line x1="320.50" y1="533.50" x2="363.90" y2="533.50" stroke="#858585" stroke-width="1.1"/>
<text x="342.50" y="543.30" font-size="9" font-weight="normal" text-anchor="middle" fill="#111">AGN 24h</text>
<line x1="375.00" y1="533.50" x2="417.80" y2="533.50" stroke="#858585" stroke-width="1.1"/>
<text x="397.20" y="543.30" font-size="9" font-weight="normal" text-anchor="middle" fill="#111">AGN 48h</text>
<line x1="427.70" y1="533.50" x2="472.50" y2="533.50" stroke="#858585" stroke-width="1.1"/>
<text x="444.90" y="543.30" font-size="9" font-weight="normal" text-anchor="middle" fill="#111">UVI 24h</text>
<line x1="483.80" y1="533.50" x2="525.70" y2="533.50" stroke="#858585" stroke-width="1.1"/>
<text x="505.00" y="543.30" font-size="9" font-weight="normal" text-anchor="middle" fill="#111">UVI 48h</text>
</svg></body></html>
